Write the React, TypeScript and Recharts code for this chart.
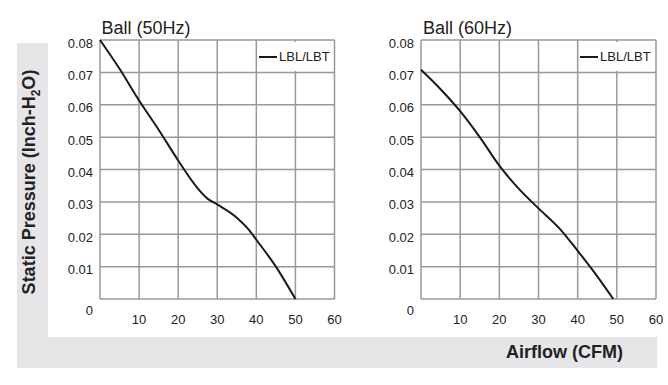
import { LineChart, Line, XAxis, YAxis, CartesianGrid, Legend } from 'recharts';

const airflowTicks = [0, 10, 20, 30, 40, 50, 60];
const pressureTicks = [0, 0.01, 0.02, 0.03, 0.04, 0.05, 0.06, 0.07, 0.08];

const airflow50 = [0, 5, 10, 15, 20, 25, 27.5, 30, 35, 38, 40, 45, 50];
const pressure50 = [0.08, 0.0711, 0.0613, 0.0523, 0.0428, 0.0342, 0.031, 0.0292, 0.0251, 0.0215, 0.0183, 0.01, 0];

const airflow60 = [0, 5, 10, 15, 20, 25, 30, 35.5, 40, 45, 49.1];
const pressure60 = [0.0708, 0.0648, 0.058, 0.05, 0.0412, 0.034, 0.028, 0.0216, 0.0149, 0.007, 0];

const FONT = "'Liberation Sans', Arial, sans-serif";
const TEXT = '#222';
const BAND = '#e6e6e8';

const toRows = (xs: number[], ys: number[]) => xs.map((airflow, i) => ({ airflow, pressure: ys[i] }));

const data50 = toRows(airflow50, pressure50);
const data60 = toRows(airflow60, pressure60);

const PressureTick = ({ x, y, payload }: any) => (
  <text
    x={x}
    y={y}
    dy={payload.value === 0 ? 15.6 : 7.6}
    textAnchor="end"
    fontSize={13}
    fontFamily={FONT}
    fill={TEXT}
  >
    {payload.value === 0 ? '0' : payload.value.toFixed(2)}
  </text>
);

const FanLegend = ({ payload }: any) => (
  <div
    style={{
      background: '#fff',
      width: 75,
      height: 29,
      display: 'flex',
      alignItems: 'center',
      fontFamily: FONT,
      fontSize: 13,
      color: TEXT,
    }}
  >
    <span style={{ display: 'inline-block', width: 18, height: 2, background: '#1a1a1a', marginLeft: 1, marginRight: 2 }} />
    {payload?.[0]?.value}
  </div>
);

interface FanChartProps {
  data: { airflow: number; pressure: number }[];
  left: number;
  width: number;
  yAxisWidth: number;
  rightMargin: number;
  legendLeft: number;
}

const FanChart = ({ data, left, width, yAxisWidth, rightMargin, legendLeft }: FanChartProps) => (
  <div style={{ position: 'absolute', left, top: 0 }}>
    <LineChart width={width} height={385} data={data} margin={{ top: 40, right: rightMargin, bottom: 55, left: 0 }}>
      <CartesianGrid stroke="#999" strokeWidth={1.5} />
      <XAxis
        type="number"
        dataKey="airflow"
        domain={[0, 60]}
        ticks={airflowTicks}
        tickFormatter={(v: number) => (v === 0 ? '' : String(v))}
        axisLine={false}
        tickLine={false}
        tickSize={0}
        tickMargin={15.5}
        height={31}
        tick={{ fontSize: 13, fill: TEXT, fontFamily: FONT }}
      />
      <YAxis
        type="number"
        domain={[0, 0.08]}
        ticks={pressureTicks}
        axisLine={false}
        tickLine={false}
        tickSize={0}
        tickMargin={7}
        width={yAxisWidth}
        tick={<PressureTick />}
      />
      <Legend
        content={<FanLegend />}
        layout="horizontal"
        verticalAlign="middle"
        align="center"
        wrapperStyle={{ left: legendLeft, top: 42, width: 75, height: 29 }}
      />
      <Line
        type="monotone"
        dataKey="pressure"
        name="LBL/LBT"
        stroke="#1a1a1a"
        strokeWidth={2}
        dot={false}
        activeDot={false}
        isAnimationActive={false}
      />
    </LineChart>
  </div>
);

const titleStyle = {
  position: 'absolute' as const,
  top: 19,
  fontFamily: FONT,
  fontSize: 18,
  lineHeight: '18px',
  color: TEXT,
  whiteSpace: 'nowrap' as const,
};

export default function App() {
  return (
    <div style={{ position: 'absolute', left: 0, top: 0, width: 668, height: 385, background: '#fff', overflow: 'hidden' }}>
      <div style={{ position: 'absolute', left: 17, top: 43, width: 31, height: 325, background: BAND }} />
      <div style={{ position: 'absolute', left: 17, top: 337, width: 640, height: 31, background: BAND }} />
      <div
        style={{
          position: 'absolute',
          left: 29,
          top: 182,
          transform: 'translate(-50%, -50%) rotate(-90deg)',
          fontFamily: FONT,
          fontSize: 18,
          fontWeight: 'bold',
          lineHeight: '18px',
          color: TEXT,
          whiteSpace: 'nowrap',
        }}
      >
        Static Pressure (Inch-H<sub style={{ fontSize: 12, lineHeight: 0 }}>2</sub>O)
      </div>
      <div style={{ ...titleStyle, left: 101.5 }}>Ball (50Hz)</div>
      <div style={{ ...titleStyle, left: 423 }}>Ball (60Hz)</div>
      <div style={{ ...titleStyle, left: 506, top: 343, fontWeight: 'bold' }}>Airflow (CFM)</div>
      <FanChart data={data50} left={0} width={346} yAxisWidth={100} rightMargin={11.5} legendLeft={258} />
      <FanChart data={data60} left={330} width={338} yAxisWidth={91} rightMargin={12} legendLeft={249} />
    </div>
  );
}
